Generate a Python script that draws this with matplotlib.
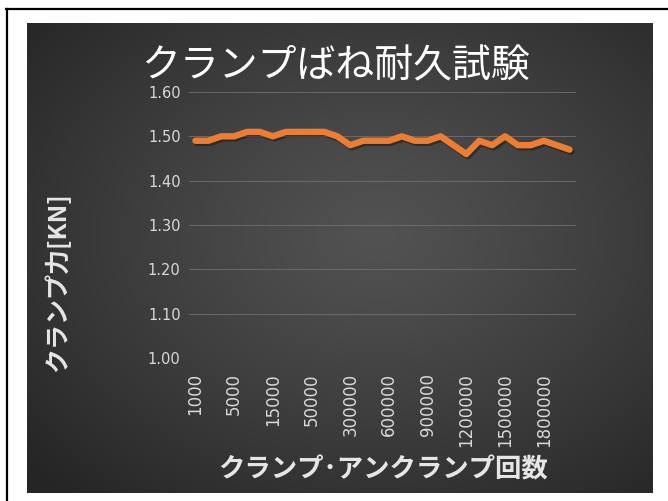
import matplotlib
matplotlib.use('Agg')

import numpy as np
import matplotlib.pyplot as plt
import matplotlib.patheffects as pe
from matplotlib.lines import Line2D

# -----------------------------
# Data
# -----------------------------
cycles = ['1000', '2000', '3000', '5000', '7000', '10000', '15000', '20000',
          '30000', '50000', '100000', '200000', '300000', '400000', '500000',
          '600000', '700000', '800000', '900000', '1000000', '1100000',
          '1200000', '1300000', '1400000', '1500000', '1600000', '1700000',
          '1800000', '1900000', '2000000']
force_kn = [1.49, 1.49, 1.50, 1.50, 1.51, 1.51, 1.50, 1.51, 1.51, 1.51,
            1.51, 1.50, 1.48, 1.49, 1.49, 1.49, 1.50, 1.49, 1.49, 1.50,
            1.48, 1.46, 1.49, 1.48, 1.50, 1.48, 1.48, 1.49, 1.48, 1.47]
y_ticks = [1.00, 1.10, 1.20, 1.30, 1.40, 1.50, 1.60]

title = 'クランプばね耐久試験'
x_title = 'クランプ･アンクランプ回数'
y_title = 'クランプ力[KN]'

jp_font = ['Noto Sans CJK JP', 'DejaVu Sans']
txt_col = '#d9d9d9'

W, H = 668, 501
fig = plt.figure(figsize=(W / 100, H / 100), dpi=100, facecolor='white')

# -----------------------------
# Dark radial gradient panel
# -----------------------------
bx0, by0, bx1, by1 = 27, 23, 653, 493
bg = fig.add_axes([bx0 / W, 1 - by1 / H, (bx1 - bx0) / W, (by1 - by0) / H])
gx, gy = np.meshgrid(np.linspace(0, 1, 400), np.linspace(0, 1, 300))
r = np.sqrt(((gx - 0.56) / 0.75) ** 2 + ((gy - 0.45) / 0.75) ** 2)
r = np.clip(r, 0, 1)
shade = (0x52 - (0x52 - 0x25) * r ** 1.2) / 255.0
bg.imshow(np.dstack([shade, shade, shade]), aspect='auto', extent=[0, 1, 0, 1],
          interpolation='bilinear')
bg.set_axis_off()

# frame lines on the white margin
fig.add_artist(Line2D([6 / W, 1.0], [1 - 9 / H, 1 - 9 / H], color='black', lw=1.6))
fig.add_artist(Line2D([7 / W, 7 / W], [0.0, 1 - 9 / H], color='black', lw=1.6))

# -----------------------------
# Plot area
# -----------------------------
px0, py0, px1, py1 = 189, 92, 576, 358
ax = fig.add_axes([px0 / W, 1 - py1 / H, (px1 - px0) / W, (py1 - py0) / H])
ax.patch.set_alpha(0)

x = np.arange(len(cycles))
ax.plot(x, force_kn, color='#ed7d31', lw=4.6, solid_joinstyle='round',
        solid_capstyle='round',
        path_effects=[pe.SimpleLineShadow(offset=(1.2, -1.5), shadow_color='black', alpha=0.35),
                      pe.Normal()])

ax.set_xlim(-0.5, len(cycles) - 0.5)
ax.set_ylim(1.00, 1.60)
ax.set_yticks(y_ticks)
ax.set_yticklabels([f'{v:.2f}' for v in y_ticks])
ax.set_xticks(x[::3])
ax.set_xticklabels(cycles[::3], rotation=90)

ax.grid(axis='y', color='#6a6a6a', lw=0.7)
ax.set_axisbelow(True)
for s in ax.spines.values():
    s.set_visible(False)
ax.tick_params(axis='y', length=0, pad=6, labelsize=10.5, labelcolor=txt_col)
ax.tick_params(axis='x', length=0, pad=11, labelsize=12, labelcolor=txt_col)

# -----------------------------
# Titles
# -----------------------------
fig.text(336 / W, 1 - 66 / H, title, family=jp_font, fontsize=28, color='white',
         ha='center', va='center')
fig.text(383 / W, 1 - 470 / H, x_title, family=jp_font, fontsize=19,
         fontweight='bold', color='#e6e6e6', ha='center', va='center')
fig.text(57 / W, 1 - 282 / H, y_title, family=jp_font, fontsize=18,
         fontweight='bold', color='#e6e6e6', ha='center', va='center', rotation=90)

fig.savefig('out.png', dpi=100, facecolor='white')
